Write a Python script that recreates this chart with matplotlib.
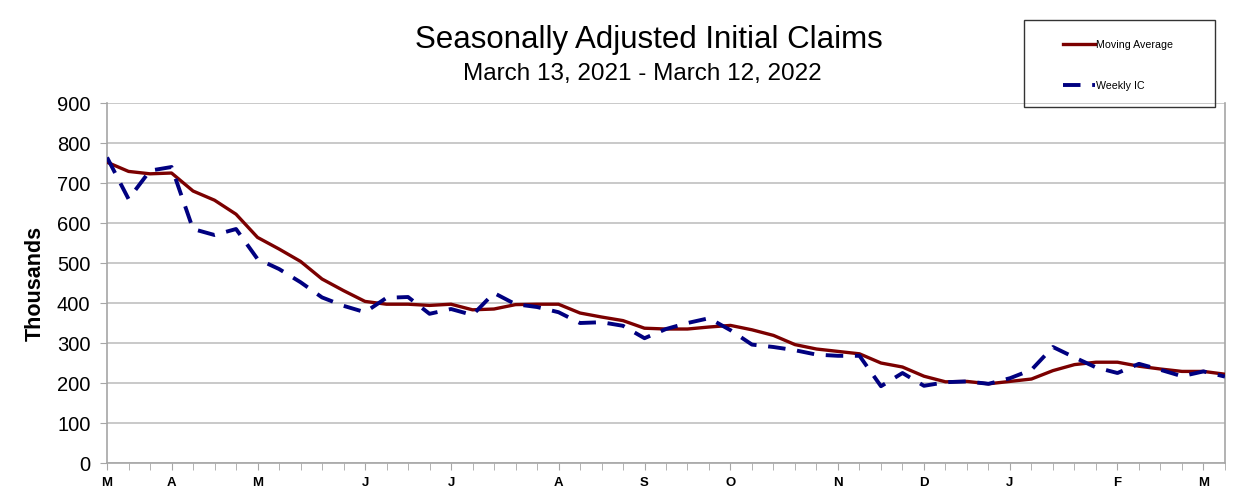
import matplotlib
matplotlib.use("Agg")
import matplotlib.pyplot as plt
from matplotlib.lines import Line2D
from matplotlib.patches import Rectangle

plt.rcParams["font.family"] = ["Liberation Sans", "DejaVu Sans"]

# weeks ending Mar 13, 2021 .. Mar 12, 2022 (53 weeks), thousands
weekly_ic = [764, 660, 731, 740, 585, 570, 585, 510, 485, 452, 414, 393, 377,
             413, 415, 373, 385, 370, 425, 397, 390, 377, 350, 352, 343, 312,
             335, 350, 362, 332, 296, 290, 282, 271, 268, 268, 192, 225, 193,
             202, 204, 198, 212, 233, 290, 264, 239, 225, 248, 233, 217, 229, 216]
moving_avg = [752, 729, 723, 725, 680, 657, 622, 564, 535, 504, 460, 431, 404,
              397, 397, 394, 397, 383, 385, 396, 397, 397, 375, 365, 356, 337,
              335, 335, 340, 344, 333, 319, 296, 285, 279, 273, 250, 240, 217,
              203, 204, 198, 204, 210, 231, 246, 252, 252, 242, 235, 229, 229, 222]
month_pos = [0, 3, 7, 12, 16, 21, 25, 29, 34, 38, 42, 47, 51]
month_lbl = ["M", "A", "M", "J", "J", "A", "S", "O", "N", "D", "J", "F", "M"]
yticks = list(range(0, 1000, 100))

weeks = list(range(len(weekly_ic)))
grey = "#a6a6a6"
ma_col, ic_col = "#7b0000", "#000080"
ic_dash = (4.5, 3)

fig = plt.figure(figsize=(12.52, 5.03), dpi=100)
ax = fig.add_axes([0.0855, 0.0795, 0.8929, 0.7157])

ax.plot(weeks, moving_avg, color=ma_col, lw=2.4, zorder=3)
ax.plot(weeks, weekly_ic, color=ic_col, lw=2.8, dashes=ic_dash, zorder=4)

ax.set_xlim(0, len(weeks) - 1)
ax.set_ylim(0, 900)
ax.set_yticks(yticks)
ax.tick_params(axis="y", labelsize=14.5, length=5, color=grey, pad=7)
ax.set_xticks(weeks, minor=True)
ax.set_xticks(month_pos)
ax.set_xticklabels(month_lbl, fontsize=9.5, fontweight="bold")
ax.tick_params(axis="x", which="both", length=5, color=grey, pad=5)
ax.yaxis.grid(True, color="#c0c0c0", lw=1.2)
ax.set_axisbelow(True)
for side in ["left", "right", "bottom"]:
    ax.spines[side].set_color(grey)
    ax.spines[side].set_linewidth(1.2)
ax.spines["top"].set_visible(False)

ax.set_ylabel("Thousands", fontsize=15.5, fontweight="bold", labelpad=8)

fig.text(0.518, 0.92, "Seasonally Adjusted Initial Claims", ha="center", va="center", fontsize=22.5)
fig.text(0.513, 0.853, "March 13, 2021 - March 12, 2022", ha="center", va="center", fontsize=17.5)

# legend box drawn separately (wide side padding like the original)
fig.add_artist(Rectangle((1024 / 1252, 1 - 107 / 503), 191 / 1252, 87 / 503,
                         transform=fig.transFigure, fill=False, ec="#333333", lw=1.0))
handles = [Line2D([], [], color=ma_col, lw=2.4),
           Line2D([], [], color=ic_col, lw=2.8, dashes=ic_dash)]
fig.legend(handles, ["Moving Average", "Weekly IC"], loc="upper left",
           bbox_to_anchor=(1063 / 1252, 1 - 40 / 503), fontsize=7.7, frameon=False,
           handlelength=3.0, handletextpad=0.1, labelspacing=2.9, borderpad=0,
           borderaxespad=0)

fig.savefig("out.png", dpi=100)
